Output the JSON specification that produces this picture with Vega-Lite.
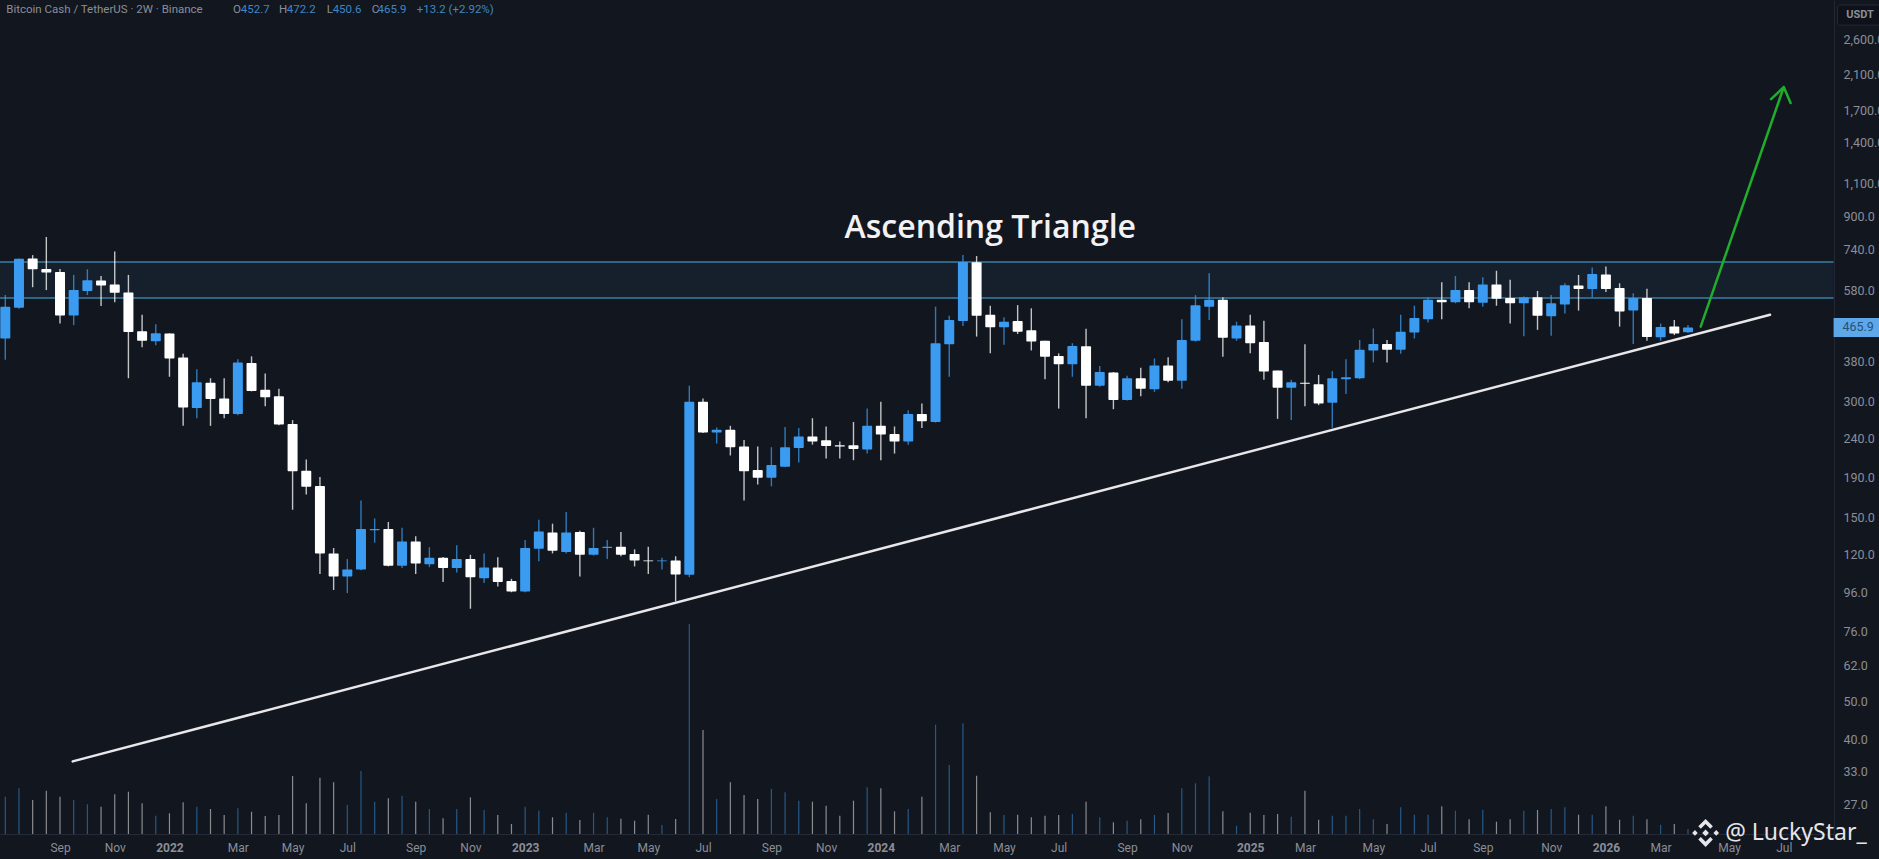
{
  "$schema": "https://vega.github.io/schema/vega-lite/v6.json",
  "width": 1834,
  "height": 834,
  "autosize": {"type": "none"},
  "padding": {"left": 0, "top": 0, "right": 45, "bottom": 25},
  "background": "#12161f",
  "config": {"view": {"stroke": null}, "font": "Roboto"},
  "datasets": {
    "candles": [
      {"date":"2021-07-19","open":436,"high":565,"low":384,"close":527,"volume":37.3,"dir":"up"},
      {"date":"2021-08-02","open":524,"high":703,"low":521,"close":702,"volume":45.7,"dir":"up"},
      {"date":"2021-08-16","open":703,"high":717,"low":592,"close":659,"volume":34,"dir":"down"},
      {"date":"2021-08-30","open":660,"high":799,"low":582,"close":646,"volume":43.3,"dir":"down"},
      {"date":"2021-09-13","open":648,"high":660,"low":477,"close":500,"volume":37.3,"dir":"down"},
      {"date":"2021-09-27","open":500,"high":637,"low":472,"close":582,"volume":34,"dir":"up"},
      {"date":"2021-10-11","open":579,"high":659,"low":565,"close":617,"volume":29.7,"dir":"up"},
      {"date":"2021-10-25","open":616,"high":633,"low":529,"close":598,"volume":27.3,"dir":"down"},
      {"date":"2021-11-08","open":602,"high":732,"low":541,"close":573,"volume":39.7,"dir":"down"},
      {"date":"2021-11-22","open":574,"high":637,"low":344,"close":453,"volume":42.3,"dir":"down"},
      {"date":"2021-12-06","open":455,"high":502,"low":414,"close":430,"volume":30.7,"dir":"down"},
      {"date":"2021-12-20","open":429,"high":475,"low":419,"close":450,"volume":18.3,"dir":"up"},
      {"date":"2022-01-03","open":449,"high":450,"low":347,"close":387,"volume":20.7,"dir":"down"},
      {"date":"2022-01-17","open":389,"high":398,"low":259,"close":289,"volume":31.7,"dir":"down"},
      {"date":"2022-01-31","open":288,"high":363,"low":271,"close":336,"volume":27.3,"dir":"up"},
      {"date":"2022-02-14","open":335,"high":344,"low":259,"close":304,"volume":25,"dir":"down"},
      {"date":"2022-02-28","open":305,"high":344,"low":271,"close":278,"volume":19,"dir":"down"},
      {"date":"2022-03-14","open":278,"high":385,"low":276,"close":378,"volume":25.7,"dir":"up"},
      {"date":"2022-03-28","open":377,"high":392,"low":318,"close":319,"volume":22.3,"dir":"down"},
      {"date":"2022-04-11","open":321,"high":354,"low":291,"close":307,"volume":18,"dir":"down"},
      {"date":"2022-04-25","open":309,"high":323,"low":260,"close":261,"volume":19,"dir":"down"},
      {"date":"2022-05-09","open":262,"high":268,"low":157,"close":197.5,"volume":58,"dir":"down"},
      {"date":"2022-05-23","open":198,"high":212,"low":172,"close":180,"volume":30.7,"dir":"down"},
      {"date":"2022-06-06","open":181,"high":191,"low":107,"close":121,"volume":56.3,"dir":"down"},
      {"date":"2022-06-20","open":121,"high":125,"low":97.3,"close":105.5,"volume":51.7,"dir":"down"},
      {"date":"2022-07-04","open":105.5,"high":117,"low":95.5,"close":110,"volume":29,"dir":"up"},
      {"date":"2022-07-18","open":110,"high":166,"low":109.5,"close":140,"volume":63,"dir":"up"},
      {"date":"2022-08-01","open":139,"high":149,"low":129,"close":140,"volume":32.3,"dir":"up"},
      {"date":"2022-08-15","open":140,"high":146,"low":112,"close":112.5,"volume":35.7,"dir":"down"},
      {"date":"2022-08-29","open":112.5,"high":141,"low":111,"close":130,"volume":38.3,"dir":"up"},
      {"date":"2022-09-12","open":130,"high":134,"low":107,"close":114,"volume":32.3,"dir":"down"},
      {"date":"2022-09-26","open":113.5,"high":125.5,"low":111.5,"close":118,"volume":25,"dir":"up"},
      {"date":"2022-10-10","open":118,"high":118.5,"low":102,"close":111,"volume":15.7,"dir":"down"},
      {"date":"2022-10-24","open":111,"high":127,"low":108,"close":117,"volume":25,"dir":"up"},
      {"date":"2022-11-07","open":117,"high":120,"low":87,"close":105,"volume":36.7,"dir":"down"},
      {"date":"2022-11-21","open":104.4,"high":121,"low":101.4,"close":111.2,"volume":24,"dir":"up"},
      {"date":"2022-12-05","open":111.2,"high":118.3,"low":99.3,"close":102,"volume":19,"dir":"down"},
      {"date":"2022-12-19","open":102.6,"high":104,"low":96,"close":96.4,"volume":10,"dir":"down"},
      {"date":"2023-01-02","open":96.4,"high":131,"low":96,"close":125,"volume":27.3,"dir":"up"},
      {"date":"2023-01-16","open":124.5,"high":148,"low":115.5,"close":138,"volume":23.3,"dir":"up"},
      {"date":"2023-01-30","open":137,"high":144.5,"low":121,"close":123,"volume":16.7,"dir":"down"},
      {"date":"2023-02-13","open":122,"high":155,"low":121,"close":137,"volume":21.3,"dir":"up"},
      {"date":"2023-02-27","open":137.5,"high":138.5,"low":105.5,"close":120,"volume":14,"dir":"down"},
      {"date":"2023-03-13","open":120,"high":141,"low":119.5,"close":125,"volume":21.3,"dir":"up"},
      {"date":"2023-03-27","open":125,"high":131,"low":117,"close":126,"volume":16.7,"dir":"up"},
      {"date":"2023-04-10","open":126,"high":137.5,"low":119,"close":120,"volume":15.3,"dir":"down"},
      {"date":"2023-04-24","open":120.5,"high":124,"low":112,"close":116,"volume":13.3,"dir":"down"},
      {"date":"2023-05-08","open":116,"high":126,"low":107,"close":115.5,"volume":19.3,"dir":"down"},
      {"date":"2023-05-22","open":115.5,"high":118,"low":110,"close":116,"volume":9,"dir":"up"},
      {"date":"2023-06-05","open":116,"high":119,"low":90.9,"close":106.7,"volume":15,"dir":"down"},
      {"date":"2023-06-19","open":106.5,"high":329,"low":105,"close":299,"volume":210,"dir":"up"},
      {"date":"2023-07-03","open":299,"high":305,"low":248,"close":249,"volume":104,"dir":"down"},
      {"date":"2023-07-17","open":249,"high":256.5,"low":233,"close":253,"volume":35,"dir":"up"},
      {"date":"2023-07-31","open":253,"high":259,"low":217,"close":228,"volume":51.7,"dir":"down"},
      {"date":"2023-08-14","open":229,"high":238,"low":166,"close":197.5,"volume":39,"dir":"down"},
      {"date":"2023-08-28","open":199,"high":229,"low":182.5,"close":190,"volume":35,"dir":"down"},
      {"date":"2023-09-11","open":190,"high":228,"low":180.5,"close":205,"volume":45,"dir":"up"},
      {"date":"2023-09-25","open":203,"high":257,"low":202.5,"close":228,"volume":41.7,"dir":"up"},
      {"date":"2023-10-09","open":227,"high":255.5,"low":208,"close":243,"volume":33.3,"dir":"up"},
      {"date":"2023-10-23","open":243,"high":271,"low":231.5,"close":236,"volume":32.3,"dir":"down"},
      {"date":"2023-11-06","open":237.5,"high":258,"low":213,"close":229.5,"volume":28.3,"dir":"down"},
      {"date":"2023-11-20","open":230.5,"high":236,"low":213,"close":229,"volume":18.3,"dir":"down"},
      {"date":"2023-12-04","open":230.5,"high":265,"low":211,"close":225.5,"volume":33.3,"dir":"down"},
      {"date":"2023-12-18","open":225,"high":287,"low":219.5,"close":259,"volume":46.7,"dir":"up"},
      {"date":"2024-01-01","open":259,"high":299,"low":211,"close":246,"volume":45.7,"dir":"down"},
      {"date":"2024-01-15","open":246.5,"high":258,"low":219.5,"close":236,"volume":22.7,"dir":"down"},
      {"date":"2024-01-29","open":236,"high":284,"low":231.5,"close":278,"volume":25,"dir":"up"},
      {"date":"2024-02-12","open":278,"high":296,"low":255.5,"close":266,"volume":37.3,"dir":"down"},
      {"date":"2024-02-26","open":265,"high":527,"low":264,"close":424,"volume":109.3,"dir":"up"},
      {"date":"2024-03-11","open":421,"high":499,"low":347,"close":487,"volume":69,"dir":"up"},
      {"date":"2024-03-25","open":484,"high":717,"low":470,"close":688,"volume":110.7,"dir":"up"},
      {"date":"2024-04-08","open":687,"high":713,"low":441,"close":499,"volume":58.3,"dir":"down"},
      {"date":"2024-04-22","open":502,"high":530,"low":399,"close":466,"volume":21.7,"dir":"down"},
      {"date":"2024-05-06","open":466,"high":495,"low":420,"close":482,"volume":19,"dir":"up"},
      {"date":"2024-05-20","open":484,"high":532,"low":448,"close":454,"volume":19.3,"dir":"down"},
      {"date":"2024-06-03","open":458,"high":522,"low":406,"close":428,"volume":16.7,"dir":"down"},
      {"date":"2024-06-17","open":430,"high":430,"low":342,"close":391,"volume":18.3,"dir":"down"},
      {"date":"2024-07-01","open":393,"high":399,"low":287,"close":374,"volume":19,"dir":"down"},
      {"date":"2024-07-15","open":374,"high":424,"low":347,"close":417,"volume":20,"dir":"up"},
      {"date":"2024-07-29","open":416,"high":462,"low":271,"close":329,"volume":32.3,"dir":"down"},
      {"date":"2024-08-12","open":329,"high":370,"low":327,"close":357,"volume":16.7,"dir":"up"},
      {"date":"2024-08-26","open":356,"high":357,"low":286,"close":302,"volume":11.7,"dir":"down"},
      {"date":"2024-09-09","open":302,"high":349,"low":301,"close":344,"volume":13.3,"dir":"up"},
      {"date":"2024-09-23","open":344,"high":366,"low":309,"close":323,"volume":14.7,"dir":"down"},
      {"date":"2024-10-07","open":322,"high":387,"low":317,"close":371,"volume":19,"dir":"up"},
      {"date":"2024-10-21","open":371,"high":390,"low":336,"close":339,"volume":21,"dir":"down"},
      {"date":"2024-11-04","open":339,"high":489,"low":323,"close":432,"volume":45.7,"dir":"up"},
      {"date":"2024-11-18","open":430,"high":565,"low":428,"close":532,"volume":50.7,"dir":"up"},
      {"date":"2024-12-02","open":527,"high":643,"low":487,"close":549,"volume":57.7,"dir":"up"},
      {"date":"2024-12-16","open":549,"high":558,"low":391,"close":438,"volume":22.7,"dir":"down"},
      {"date":"2024-12-30","open":436,"high":482,"low":430,"close":471,"volume":8.3,"dir":"up"},
      {"date":"2025-01-13","open":471,"high":502,"low":399,"close":424,"volume":21.3,"dir":"down"},
      {"date":"2025-01-27","open":427,"high":485,"low":341,"close":358,"volume":19,"dir":"down"},
      {"date":"2025-02-10","open":360,"high":360,"low":270,"close":325,"volume":20,"dir":"down"},
      {"date":"2025-02-24","open":325,"high":341,"low":268,"close":336,"volume":17.3,"dir":"up"},
      {"date":"2025-03-10","open":335,"high":421,"low":291,"close":333,"volume":43.3,"dir":"down"},
      {"date":"2025-03-24","open":332,"high":351,"low":293,"close":296,"volume":14.3,"dir":"down"},
      {"date":"2025-04-07","open":297,"high":359,"low":256,"close":344,"volume":18.3,"dir":"up"},
      {"date":"2025-04-21","open":342,"high":385,"low":313,"close":346,"volume":18.3,"dir":"up"},
      {"date":"2025-05-05","open":344,"high":432,"low":342,"close":408,"volume":25,"dir":"up"},
      {"date":"2025-05-19","open":406,"high":463,"low":378,"close":422,"volume":14.7,"dir":"up"},
      {"date":"2025-06-02","open":422,"high":432,"low":378,"close":408,"volume":10,"dir":"down"},
      {"date":"2025-06-16","open":408,"high":502,"low":398,"close":454,"volume":26.7,"dir":"up"},
      {"date":"2025-06-30","open":452,"high":530,"low":436,"close":493,"volume":19.3,"dir":"up"},
      {"date":"2025-07-14","open":489,"high":558,"low":480,"close":549,"volume":19.3,"dir":"up"},
      {"date":"2025-07-28","open":549,"high":610,"low":489,"close":541,"volume":27.7,"dir":"down"},
      {"date":"2025-08-11","open":541,"high":633,"low":538,"close":582,"volume":23.3,"dir":"up"},
      {"date":"2025-08-25","open":582,"high":610,"low":522,"close":541,"volume":14.7,"dir":"down"},
      {"date":"2025-09-08","open":540,"high":628,"low":527,"close":602,"volume":24.3,"dir":"up"},
      {"date":"2025-09-22","open":602,"high":653,"low":530,"close":553,"volume":12.3,"dir":"down"},
      {"date":"2025-10-06","open":555,"high":619,"low":477,"close":538,"volume":14.7,"dir":"down"},
      {"date":"2025-10-20","open":538,"high":560,"low":442,"close":558,"volume":23.3,"dir":"up"},
      {"date":"2025-11-03","open":558,"high":579,"low":459,"close":499,"volume":24,"dir":"down"},
      {"date":"2025-11-17","open":498,"high":565,"low":443,"close":538,"volume":25,"dir":"up"},
      {"date":"2025-12-01","open":534,"high":606,"low":506,"close":599,"volume":26.7,"dir":"up"},
      {"date":"2025-12-15","open":598,"high":637,"low":515,"close":586,"volume":19.3,"dir":"down"},
      {"date":"2025-12-29","open":586,"high":666,"low":558,"close":641,"volume":19.3,"dir":"up"},
      {"date":"2026-01-12","open":639,"high":670,"low":575,"close":586,"volume":27.7,"dir":"down"},
      {"date":"2026-01-26","open":589,"high":606,"low":468,"close":512,"volume":14.3,"dir":"down"},
      {"date":"2026-02-09","open":515,"high":571,"low":422,"close":555,"volume":18.3,"dir":"up"},
      {"date":"2026-02-23","open":555,"high":587,"low":430,"close":440,"volume":14.7,"dir":"down"},
      {"date":"2026-03-09","open":439,"high":477,"low":430,"close":467,"volume":9.3,"dir":"up"},
      {"date":"2026-03-23","open":468,"high":487,"low":445,"close":449,"volume":10,"dir":"down"},
      {"date":"2026-04-06","open":452.7,"high":472.2,"low":450.6,"close":465.9,"volume":5,"dir":"up"}
    ],
    "zone": [{"date":"2021-07-13","date2":"2026-09-02","top":688,"bottom":555}],
    "levels": [
      {"date":"2021-07-13","date2":"2026-09-02","price":688},
      {"date":"2021-07-13","date2":"2026-09-02","price":555}
    ],
    "trend": [
      {"date":"2021-09-26","price":35},
      {"date":"2026-06-29","price":502.5}
    ],
    "arrow": [
      {"date":"2026-04-19","price":468,"part":"shaft"},
      {"date":"2026-07-13","price":1953,"part":"shaft"},
      {"date":"2026-06-30","price":1817,"part":"head"},
      {"date":"2026-07-13","price":1953,"part":"head"},
      {"date":"2026-07-20","price":1776,"part":"head"}
    ],
    "headerGrey": [
      {"date":"2021-07-20","price":3092,"text":"Bitcoin Cash / TetherUS · 2W · Binance"},
      {"date":"2022-03-09","price":3092,"text":"O"},
      {"date":"2022-04-25","price":3092,"text":"H"},
      {"date":"2022-06-13","price":3092,"text":"L"},
      {"date":"2022-07-29","price":3092,"text":"C"}
    ],
    "headerBlue": [
      {"date":"2022-03-17","price":3092,"text":"452.7"},
      {"date":"2022-05-03","price":3092,"text":"472.2"},
      {"date":"2022-06-19","price":3092,"text":"450.6"},
      {"date":"2022-08-04","price":3092,"text":"465.9"},
      {"date":"2022-09-13","price":3092,"text":"+13.2 (+2.92%)"}
    ]
  },
  "encoding": {
    "x": {
      "field": "date",
      "type": "temporal",
      "title": null,
      "scale": {
        "type": "utc",
        "padding": 0,
        "domain": [
          {"year": 2021, "month": "jul", "date": 13, "hours": 14, "utc": true},
          {"year": 2026, "month": "sep", "date": 2, "hours": 10, "utc": true}
        ]
      },
      "axis": {
        "values": [
          {"year":2021,"month":"sep","date":13,"utc":true},
          {"year":2021,"month":"nov","date":8,"utc":true},
          {"year":2022,"month":"jan","date":3,"utc":true},
          {"year":2022,"month":"mar","date":14,"utc":true},
          {"year":2022,"month":"may","date":9,"utc":true},
          {"year":2022,"month":"jul","date":4,"utc":true},
          {"year":2022,"month":"sep","date":12,"utc":true},
          {"year":2022,"month":"nov","date":7,"utc":true},
          {"year":2023,"month":"jan","date":2,"utc":true},
          {"year":2023,"month":"mar","date":13,"utc":true},
          {"year":2023,"month":"may","date":8,"utc":true},
          {"year":2023,"month":"jul","date":3,"utc":true},
          {"year":2023,"month":"sep","date":11,"utc":true},
          {"year":2023,"month":"nov","date":6,"utc":true},
          {"year":2024,"month":"jan","date":1,"utc":true},
          {"year":2024,"month":"mar","date":11,"utc":true},
          {"year":2024,"month":"may","date":6,"utc":true},
          {"year":2024,"month":"jul","date":1,"utc":true},
          {"year":2024,"month":"sep","date":9,"utc":true},
          {"year":2024,"month":"nov","date":4,"utc":true},
          {"year":2025,"month":"jan","date":13,"utc":true},
          {"year":2025,"month":"mar","date":10,"utc":true},
          {"year":2025,"month":"may","date":19,"utc":true},
          {"year":2025,"month":"jul","date":14,"utc":true},
          {"year":2025,"month":"sep","date":8,"utc":true},
          {"year":2025,"month":"nov","date":17,"utc":true},
          {"year":2026,"month":"jan","date":12,"utc":true},
          {"year":2026,"month":"mar","date":9,"utc":true},
          {"year":2026,"month":"may","date":18,"utc":true},
          {"year":2026,"month":"jul","date":13,"utc":true}
        ],
        "labelExpr": "utcmonth(datum.value) == 0 ? utcFormat(datum.value, '%Y') : utcFormat(datum.value, '%b')",
        "labelFontWeight": {"condition": {"test": "utcmonth(datum.value) == 0", "value": 700}, "value": 400},
        "labelColor": "#8b8e97",
        "labelFontSize": 12,
        "labelPadding": 8,
        "labelOverlap": false,
        "labelFlush": false,
        "labelBound": false,
        "grid": false,
        "ticks": false,
        "domainColor": "#262a36"
      }
    }
  },
  "resolve": {"scale": {"y": "independent"}},
  "layer": [
    {
      "data": {"name": "candles"},
      "mark": {"type": "bar", "size": 1.2, "opacity": 0.5},
      "encoding": {
        "y": {"field": "volume", "type": "quantitative", "axis": null, "scale": {"domain": [0, 834], "nice": false, "zero": true}},
        "color": {"field": "dir", "type": "nominal", "legend": null, "scale": {"domain": ["up", "down"], "range": ["#3a9bf0", "#ffffff"]}}
      }
    },
    {
      "encoding": {
        "y": {
          "type": "quantitative",
          "title": null,
          "scale": {"type": "log", "domain": [22.7, 3283], "nice": false},
          "axis": {
            "orient": "right",
            "values": [2600, 2100, 1700, 1400, 1100, 900, 740, 580, 380, 300, 240, 190, 150, 120, 96, 76, 62, 50, 40, 33, 27],
            "format": ",.1f",
            "labelColor": "#8b8e97",
            "labelFontSize": 12.5,
            "labelPadding": 9,
            "labelOverlap": false,
            "labelBound": false,
            "labelFlush": false,
            "grid": false,
            "ticks": false,
            "domainColor": "#232733"
          }
        }
      },
      "layer": [
        {
          "data": {"name": "zone"},
          "mark": {"type": "rect", "color": "#15202c"},
          "encoding": {
            "x2": {"field": "date2"},
            "y": {"field": "top", "type": "quantitative"},
            "y2": {"field": "bottom"}
          }
        },
        {
          "data": {"name": "levels"},
          "mark": {"type": "rule", "color": "#3d7ea6", "strokeWidth": 1.5},
          "encoding": {
            "x2": {"field": "date2"},
            "y": {"field": "price", "type": "quantitative"}
          }
        },
        {
          "data": {"name": "candles"},
          "mark": {"type": "rule", "strokeWidth": 1.4, "opacity": 0.75},
          "encoding": {
            "y": {"field": "high", "type": "quantitative"},
            "y2": {"field": "low"},
            "color": {"field": "dir", "type": "nominal", "legend": null}
          }
        },
        {
          "data": {"name": "candles"},
          "mark": {"type": "bar", "size": 10, "cornerRadius": 1},
          "encoding": {
            "y": {"field": "open", "type": "quantitative"},
            "y2": {"field": "close"},
            "color": {"field": "dir", "type": "nominal", "legend": null}
          }
        },
        {
          "data": {"name": "trend"},
          "mark": {"type": "line", "color": "#e8e8ea", "strokeWidth": 2.5, "strokeCap": "round"},
          "encoding": {
            "y": {"field": "price", "type": "quantitative"}
          }
        },
        {
          "data": {"name": "arrow"},
          "mark": {"type": "line", "color": "#1fae2c", "strokeWidth": 2.5, "strokeCap": "round", "strokeJoin": "round"},
          "encoding": {
            "y": {"field": "price", "type": "quantitative"},
            "detail": {"field": "part"}
          }
        },
        {
          "data": {"values": [{"date": "2024-04-22", "price": 843, "text": "Ascending Triangle"}]},
          "mark": {"type": "text", "font": "Open Sans", "fontSize": 32, "fontWeight": 600, "color": "#f2f2f4", "align": "center", "baseline": "middle"},
          "encoding": {
            "y": {"field": "price", "type": "quantitative"},
            "text": {"field": "text"}
          }
        },
        {
          "data": {"name": "headerGrey"},
          "mark": {"type": "text", "fontSize": 11.5, "color": "#8b8e97", "align": "left", "baseline": "middle"},
          "encoding": {
            "y": {"field": "price", "type": "quantitative"},
            "text": {"field": "text"}
          }
        },
        {
          "data": {"name": "headerBlue"},
          "mark": {"type": "text", "fontSize": 11.5, "color": "#3f86c4", "align": "left", "baseline": "middle"},
          "encoding": {
            "y": {"field": "price", "type": "quantitative"},
            "text": {"field": "text"}
          }
        },
        {
          "data": {"values": [{"date": "2026-09-02", "date2": "2026-10-20", "top": 493, "bottom": 440}]},
          "mark": {"type": "rect", "color": "#5ea8ea"},
          "encoding": {
            "x2": {"field": "date2"},
            "y": {"field": "top", "type": "quantitative"},
            "y2": {"field": "bottom"}
          }
        },
        {
          "data": {"values": [{"date": "2026-09-11", "price": 466, "text": "465.9"}]},
          "mark": {"type": "text", "fontSize": 12.5, "color": "#24507a", "align": "left", "baseline": "middle"},
          "encoding": {
            "y": {"field": "price", "type": "quantitative"},
            "text": {"field": "text"}
          }
        },
        {
          "data": {"values": [{"date": "2026-09-06", "date2": "2026-10-20", "top": 3186, "bottom": 2826}]},
          "mark": {"type": "rect", "color": "#0e1119", "stroke": "#262a36", "strokeWidth": 1, "cornerRadius": 3},
          "encoding": {
            "x2": {"field": "date2"},
            "y": {"field": "top", "type": "quantitative"},
            "y2": {"field": "bottom"}
          }
        },
        {
          "data": {"values": [{"date": "2026-09-15", "price": 3000, "text": "USDT"}]},
          "mark": {"type": "text", "fontSize": 11, "fontWeight": 700, "color": "#8b8e97", "align": "left", "baseline": "middle"},
          "encoding": {
            "y": {"field": "price", "type": "quantitative"},
            "text": {"field": "text"}
          }
        },
        {
          "data": {"values": [{"date": "2026-04-24", "price": 22.85}]},
          "mark": {
            "type": "point",
            "filled": true,
            "size": 3136,
            "opacity": 1,
            "color": "#e6e6ea",
            "shape": "M0,-.12L.12,0L0,.12L-.12,0ZM-.38,-.1L-.28,0L-.38,.1L-.48,0ZM.38,-.1L.48,0L.38,.1L.28,0ZM0,-.5L.26,-.24L.17,-.15L0,-.32L-.17,-.15L-.26,-.24ZM0,.5L.26,.24L.17,.15L0,.32L-.17,.15L-.26,.24Z"
          },
          "encoding": {
            "y": {"field": "price", "type": "quantitative"}
          }
        },
        {
          "data": {"values": [{"date": "2026-05-14", "price": 22.85, "text": "@ LuckyStar_"}]},
          "mark": {"type": "text", "font": "Noto Sans", "fontSize": 23, "color": "#e6e6ea", "align": "left", "baseline": "middle"},
          "encoding": {
            "y": {"field": "price", "type": "quantitative"},
            "text": {"field": "text"}
          }
        }
      ]
    }
  ]
}
